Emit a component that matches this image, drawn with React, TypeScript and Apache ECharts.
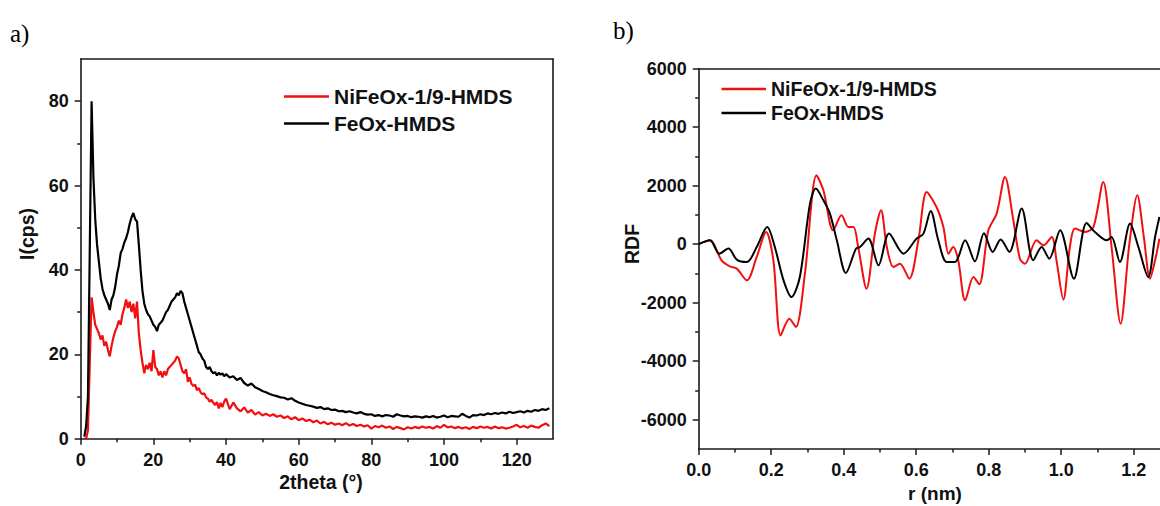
import React, { useEffect, useRef } from "react";
import * as echarts from "echarts";

// ---------- Data ----------
const seriesNames = ["NiFeOx-1/9-HMDS", "FeOx-HMDS"];

// panel a) XRD: 2theta (deg)
const xrdAngle = [
  1, 1.5, 2, 2.5, 3, 3.5, 4, 4.5, 5, 5.5,
  6, 6.5, 7, 7.5, 8, 8.5, 9, 9.5, 10, 10.5,
  11, 11.5, 12, 12.5, 13, 13.5, 14, 14.5, 15, 15.5,
  16, 16.5, 17, 17.5, 18, 18.5, 19, 19.5, 20, 20.5,
  21, 21.5, 22, 22.5, 23, 23.5, 24, 24.5, 25, 25.5,
  26, 26.5, 27, 27.5, 28, 28.5, 29, 29.5, 30, 30.5,
  31, 31.5, 32, 32.5, 33, 33.5, 34, 34.5, 35, 35.5,
  36, 36.5, 37, 37.5, 38, 38.5, 39, 39.5, 40,
  41, 42, 43, 44, 45, 46, 47, 48, 49, 50,
  51, 52, 53, 54, 55, 56, 57, 58, 59, 60,
  61, 62, 63, 64, 65, 66, 67, 68, 69, 70,
  71, 72, 73, 74, 75, 76, 77, 78, 79, 80,
  81, 82, 83, 84, 85, 86, 87, 88, 89, 90,
  91, 92, 93, 94, 95, 96, 97, 98, 99, 100,
  101, 102, 103, 104, 105, 106, 107, 108, 109, 110,
  111, 112, 113, 114, 115, 116, 117, 118, 119, 120,
  121, 122, 123, 124, 125, 126, 127, 128, 129,
];

// I(cps) NiFeOx-1/9-HMDS
const xrdNi = [
  0, 0, 2, 18, 33.5, 30, 27, 26, 25, 23.5,
  24.5, 22, 23, 21, 19.5, 22, 24, 25.5, 26.5, 28,
  27, 29.5, 31, 33, 31, 32.5, 30, 32, 28.5, 32.5,
  25, 21, 18, 15.5, 17.5, 16.5, 18, 16, 21, 17,
  16.5, 15, 16, 14.5, 16, 15, 16.5, 17, 17.5, 18,
  18.5, 19.5, 19, 17.5, 16, 15.5, 16.5, 13.5, 14.5, 13,
  12.5, 12.8, 11.5, 12, 11, 10.5, 10.8, 9.8, 9.5, 8.8,
  9.2, 8.5, 8.0, 8.7, 7.2, 8.5, 7.5, 8.8, 9.5,
  7.0, 8.6, 7.2, 6.5, 7.4, 6.2, 6.8, 5.7, 6.3, 5.5,
  5.9, 5.4, 5.8, 5.2, 5.5, 4.9, 5.3, 4.6, 5.1, 4.4,
  4.8, 4.2, 4.5, 3.9, 4.3, 3.6, 4.0, 3.4, 3.8, 3.3,
  3.6, 3.2, 3.7, 3.1, 3.5, 3.0, 3.3, 2.9, 3.2, 2.4,
  3.0, 2.7, 3.1, 2.6, 2.9, 2.3, 2.8, 2.5, 2.2, 2.7,
  2.4, 2.8, 2.5, 2.9, 2.6, 2.8, 2.4, 3.0, 2.6, 3.3,
  2.7, 2.9, 2.5, 2.8, 2.4, 2.7, 2.3, 2.8, 2.5, 2.9,
  2.6, 2.8, 2.4, 2.9, 2.5, 2.7, 2.4, 2.6, 2.9, 3.3,
  2.7, 3.0, 2.6, 3.1, 2.8, 2.6, 3.2, 3.6, 3.0,
];

// I(cps) FeOx-HMDS
const xrdFe = [
  0.5, 3, 10, 45, 80, 62, 52, 46, 42, 38,
  35.5, 34, 33, 32, 30.5, 33, 34, 36, 39, 41,
  44, 45, 46.5, 47.5, 49, 51, 52.5, 53.5, 52, 51.5,
  46, 40, 35, 32, 30.5, 29.5, 29, 28, 27, 26.5,
  25.5, 27, 27.5, 28, 29, 30, 30.5, 31.5, 32.5, 33,
  33.5, 34.5, 34, 35, 34.5, 32.5, 31, 29.5, 28, 26.5,
  25, 23.5, 22, 20.5, 20, 19, 18.5, 17, 16.5, 17,
  16, 15.5, 15.8, 15, 15.6, 15.2, 15.5, 14.8, 15.3,
  14.5, 14.8, 13.9, 14.4, 13.2, 12.6, 13.1, 12.2, 11.8, 11.3,
  11.0, 10.6, 10.3, 10.1, 9.8, 9.7, 9.3, 9.6, 9.0, 8.6,
  8.3, 8.0, 7.8, 7.6, 7.3, 7.5, 7.0, 7.2, 6.8, 6.9,
  6.5, 6.6, 6.3, 6.5, 6.2, 6.0, 6.3, 5.9, 5.7, 5.8,
  5.4, 5.6, 5.3, 5.6, 5.5, 5.2, 5.8, 5.5, 5.3, 5.4,
  5.1, 5.3, 5.2, 5.0, 5.3, 5.1, 5.4, 5.0, 5.2, 5.5,
  5.1, 5.4, 5.3, 5.2, 5.9, 5.4, 5.0, 5.6, 5.5, 5.8,
  5.6, 6.0, 5.8, 6.1, 5.9, 6.2, 6.0, 6.4, 6.1, 6.3,
  6.5, 6.2, 6.6, 6.4, 6.8, 6.6, 7.0, 6.8, 7.2,
];

// panel b) RDF
const rdfRNi = [
  0, 0.031, 0.063, 0.086, 0.105, 0.133, 0.16, 0.186, 0.206, 0.226,
  0.25, 0.268, 0.293, 0.325, 0.344, 0.371, 0.394, 0.413, 0.427, 0.44,
  0.463, 0.486, 0.503, 0.519, 0.537, 0.555, 0.581, 0.606, 0.629, 0.656,
  0.675, 0.689, 0.702, 0.716, 0.735, 0.758, 0.774, 0.799, 0.822, 0.845,
  0.868, 0.886, 0.9, 0.932, 0.951, 0.974, 0.987, 1.006, 1.024, 1.038,
  1.066, 1.089, 1.116, 1.139, 1.164, 1.188, 1.21, 1.228, 1.245, 1.259,
  1.271,
];
const rdfNi = [
  0, 130, -554, -760, -838, -1238, -440, 414, -554, -3118,
  -2547, -2834, -1009, 2352, 1839, 472, 985, 585, 585, -99,
  -1521, 359, 1156, -99, -783, -671, -1180, 130, 1781, 1268,
  585, -325, -99, -554, -1921, -1125, -1374, 472, 1043, 2294,
  814, -496, -671, 130, -41, 243, -554, -1899, -99, 530,
  414, 585, 2123, -99, -2718, 0, 1668, 243, -1180, -554,
  188,
];
const rdfRFe = [
  0, 0.031, 0.057, 0.082, 0.105, 0.133, 0.16, 0.189, 0.21, 0.234,
  0.256, 0.279, 0.307, 0.323, 0.344, 0.362, 0.381, 0.406, 0.434, 0.445,
  0.468, 0.496, 0.525, 0.565, 0.601, 0.62, 0.64, 0.661, 0.684, 0.707,
  0.735, 0.762, 0.787, 0.811, 0.833, 0.857, 0.891, 0.923, 0.946, 0.967,
  0.997, 1.035, 1.07, 1.093, 1.126, 1.139, 1.162, 1.19, 1.213, 1.24,
  1.259, 1.271,
];
const rdfFe = [
  0, 130, -325, -154, -530, -612, -99, 585, -99, -1238,
  -1809, -1125, 1385, 1897, 1497, 1043, 130, -988, -154, -99,
  188, -725, 359, -325, 188, 359, 1132, 130, -612, -612,
  130, -590, 370, -268, 160, -268, 1214, -554, -99, -496,
  472, -1180, 721, 414, 130, 243, -612, 701, -99, -1125,
  243, 927,
];

// tick labels
const xrdXTicks = [0, 20, 40, 60, 80, 100, 120];
const xrdXMinor = [10, 30, 50, 70, 90, 110];
const xrdYTicks = [0, 20, 40, 60, 80];
const xrdYMinor = [10, 30, 50, 70];
const rdfXTicks = [0, 0.2, 0.4, 0.6, 0.8, 1.0, 1.2];
const rdfXMinor = [0.1, 0.3, 0.5, 0.7, 0.9, 1.1];
const rdfYTicks = [-6000, -4000, -2000, 0, 2000, 4000, 6000];
const rdfYMinor = [-5000, -3000, -1000, 1000, 3000, 5000];

const FONT = "'Liberation Sans', Arial, sans-serif";
const SERIF = "'Liberation Serif', 'Times New Roman', serif";
const AX = "#1a1a1a";
const RED = "#f01010";
const BLACK = "#000000";

function majorAxis(extra: any, ticks: number[], fmt?: (v: number) => string) {
  return {
    type: "value",
    ...extra,
    axisLine: { show: true, onZero: false, lineStyle: { color: AX, width: 1.6 } },
    axisTick: { show: true, inside: false, length: 6, customValues: ticks, lineStyle: { color: AX, width: 1.5 } },
    axisLabel: {
      show: true,
      customValues: ticks,
      formatter: fmt || ((v: number) => String(v)),
      color: "#111",
      fontFamily: FONT,
      fontWeight: "bold",
      fontSize: 18,
      margin: 12,
    },
    splitLine: { show: false },
  };
}
function minorAxis(extra: any, ticks: number[]) {
  return {
    type: "value",
    ...extra,
    axisLine: { show: false, onZero: false },
    axisTick: { show: true, inside: false, length: 3.5, customValues: ticks, lineStyle: { color: AX, width: 1.5 } },
    axisLabel: { show: false },
    splitLine: { show: false },
  };
}
function borderAxis(extra: any) {
  return {
    type: "value",
    ...extra,
    axisLine: { show: true, onZero: false, lineStyle: { color: AX, width: 1.6 } },
    axisTick: { show: false },
    axisLabel: { show: false },
    splitLine: { show: false },
  };
}

export default function App() {
  const ref = useRef<HTMLDivElement>(null);
  useEffect(() => {
    if (!ref.current) return;
    const chart = echarts.init(ref.current, undefined, { renderer: "svg" });
    const xrdA = { gridIndex: 0, min: 0, max: 130 };
    const xrdB = { gridIndex: 0, min: 0, max: 90 };
    const rdfA = { gridIndex: 1, min: 0, max: 1.2726 };
    const rdfB = { gridIndex: 1, min: -7000, max: 6000 };
    const legendText = (size: number, lh: number) => ({
      fontFamily: FONT,
      fontWeight: "bold",
      fontSize: size,
      lineHeight: lh,
      color: "#111",
    });
    const option: any = {
      animation: false,
      backgroundColor: "#ffffff",
      grid: [
        { left: 80.7, top: 59, width: 472.3, height: 379.7 },
        { left: 698.7, top: 68.5, width: 461.3, height: 380.5 },
      ],
      xAxis: [
        majorAxis({ ...xrdA, position: "bottom" }, xrdXTicks),
        minorAxis({ ...xrdA, position: "bottom" }, xrdXMinor),
        borderAxis({ ...xrdA, position: "top" }),
        majorAxis({ ...rdfA, position: "bottom" }, rdfXTicks, (v: number) => v.toFixed(1)),
        minorAxis({ ...rdfA, position: "bottom" }, rdfXMinor),
        borderAxis({ ...rdfA, position: "top" }),
      ],
      yAxis: [
        majorAxis({ ...xrdB, position: "left" }, xrdYTicks),
        minorAxis({ ...xrdB, position: "left" }, xrdYMinor),
        borderAxis({ ...xrdB, position: "right" }),
        majorAxis({ ...rdfB, position: "left" }, rdfYTicks),
        minorAxis({ ...rdfB, position: "left" }, rdfYMinor),
      ],
      legend: [
        {
          data: seriesNames,
          orient: "vertical",
          left: 284,
          top: 83,
          padding: 0,
          itemGap: 0,
          itemWidth: 45,
          itemHeight: 2.5,
          icon: "rect",
          selectedMode: false,
          textStyle: legendText(21, 27),
        },
        {
          data: seriesNames,
          orient: "vertical",
          left: 721.5,
          top: 77,
          padding: 0,
          itemGap: 0,
          itemWidth: 44.5,
          itemHeight: 2.5,
          icon: "rect",
          selectedMode: false,
          textStyle: legendText(19.5, 24),
        },
      ],
      series: [
        {
          name: seriesNames[0],
          type: "line",
          xAxisIndex: 0,
          yAxisIndex: 0,
          symbol: "none",
          data: xrdAngle.map((x, i) => [x, xrdNi[i]]),
          lineStyle: { color: RED, width: 2.2 },
          itemStyle: { color: RED },
        },
        {
          name: seriesNames[1],
          type: "line",
          xAxisIndex: 0,
          yAxisIndex: 0,
          symbol: "none",
          data: xrdAngle.map((x, i) => [x, xrdFe[i]]),
          lineStyle: { color: BLACK, width: 2.2 },
          itemStyle: { color: BLACK },
        },
        {
          name: seriesNames[0],
          type: "line",
          xAxisIndex: 3,
          yAxisIndex: 3,
          symbol: "none",
          smooth: 0.3,
          data: rdfRNi.map((x, i) => [x, rdfNi[i]]),
          lineStyle: { color: RED, width: 2 },
          itemStyle: { color: RED },
        },
        {
          name: seriesNames[1],
          type: "line",
          xAxisIndex: 3,
          yAxisIndex: 3,
          symbol: "none",
          smooth: 0.3,
          data: rdfRFe.map((x, i) => [x, rdfFe[i]]),
          lineStyle: { color: BLACK, width: 2 },
          itemStyle: { color: BLACK },
        },
      ],
      graphic: [
        {
          type: "text",
          x: 10,
          y: 33,
          style: { text: "a)", fontFamily: SERIF, fontSize: 25, fill: "#000", verticalAlign: "middle", align: "left" },
        },
        {
          type: "text",
          x: 613,
          y: 30,
          style: { text: "b)", fontFamily: SERIF, fontSize: 25, fill: "#000", verticalAlign: "middle", align: "left" },
        },
        {
          type: "text",
          x: 321,
          y: 482,
          style: { text: "2theta (°)", fontFamily: FONT, fontWeight: "bold", fontSize: 19.5, fill: "#111", align: "center", verticalAlign: "middle" },
        },
        {
          type: "text",
          x: 27,
          y: 234,
          rotation: Math.PI / 2,
          style: { text: "I(cps)", fontFamily: FONT, fontWeight: "bold", fontSize: 19.5, fill: "#111", align: "center", verticalAlign: "middle" },
        },
        {
          type: "text",
          x: 632,
          y: 244,
          rotation: Math.PI / 2,
          style: { text: "RDF", fontFamily: FONT, fontWeight: "bold", fontSize: 19.5, fill: "#111", align: "center", verticalAlign: "middle" },
        },
        {
          type: "text",
          x: 935,
          y: 493,
          style: { text: "r (nm)", fontFamily: FONT, fontWeight: "bold", fontSize: 19, fill: "#111", align: "center", verticalAlign: "middle" },
        },
      ],
    };
    chart.setOption(option);
    return () => chart.dispose();
  }, []);
  return (
    <div
      ref={ref}
      style={{ position: "absolute", left: 0, top: 0, width: 1160, height: 506, background: "#fff" }}
    />
  );
}
